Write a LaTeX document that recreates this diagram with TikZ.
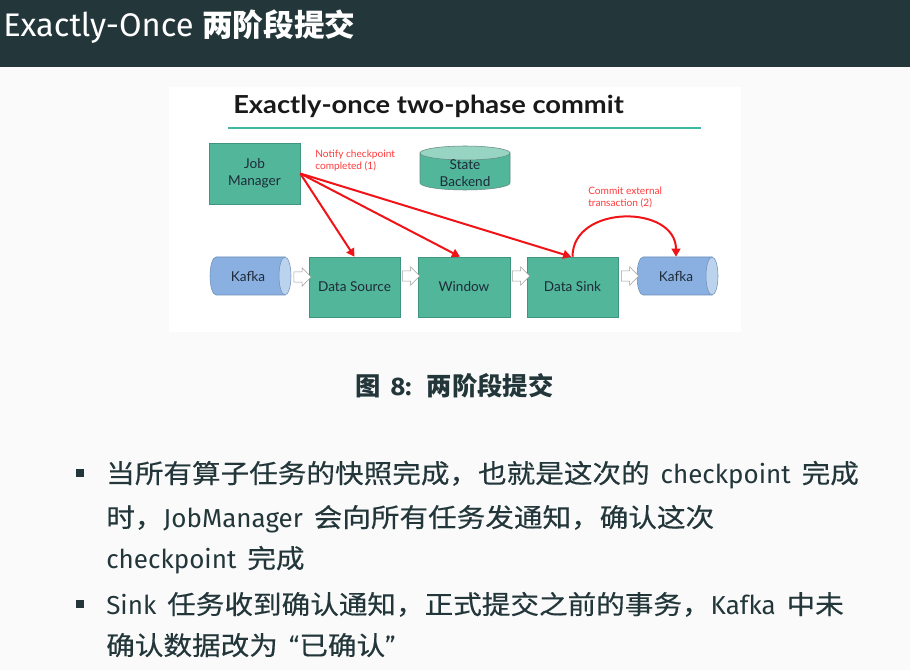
\documentclass[tikz,border=0pt]{standalone}
\usepackage{fontspec}
\setmainfont{Fira Sans}
\newfontfamily\cjk[FakeStretch=1.1,FakeBold=0.4]{Noto Sans CJK SC}
\newfontfamily\cjkt{Noto Sans CJK SC}
\newfontfamily\lato{Lato}
\newfontfamily\latow[FakeStretch=1.1]{Lato}
\newcommand{\gap}{\hspace{0.42em}}
\usetikzlibrary{shapes.arrows,arrows.meta,shadows}
\definecolor{mdark}{HTML}{23373B}
\definecolor{slidebg}{HTML}{FAFAFA}
\definecolor{boxteal}{HTML}{52B69A}
\definecolor{boxline}{HTML}{3F9580}
\definecolor{tealtop}{HTML}{97D4C2}
\definecolor{kblue}{HTML}{89B0E0}
\definecolor{kend}{HTML}{BCD3EE}
\definecolor{kline}{HTML}{6C8EBB}
\definecolor{redann}{HTML}{F01418}
\definecolor{redtext}{HTML}{FF3A3A}
\definecolor{uline}{HTML}{3DB9A2}
\definecolor{boxtext}{HTML}{1E2B38}
\tikzset{
  tealbox/.style={draw=boxline, line width=0.4pt, fill=boxteal, inner sep=0pt,
    font=\lato\fontsize{10.2}{12.5}\selectfont, text=boxtext, align=center,
    drop shadow={shadow xshift=0.9pt, shadow yshift=-0.9pt, opacity=0.3}},
  cyltext/.style={inner sep=0pt, font=\lato\fontsize{10.2}{12.5}\selectfont, text=boxtext, align=center, minimum height=28.5pt, minimum width=40pt},
  hollow/.style={single arrow, draw=gray!75, fill=white, line width=0.5pt, inner sep=0pt, inner ysep=3.6pt,
    minimum height=13pt, single arrow head extend=3pt},
  redarrow/.style={draw=redann, line width=1.5pt, -{Triangle[width=6.5pt,length=6pt]}},
  redlabel/.style={inner sep=0pt, font=\lato\fontsize{7.6}{9}\selectfont, text=redtext, align=left},
  bodytext/.style={inner sep=0pt, text=mdark, font=\fontsize{19.5}{23}\selectfont},
  bulletsq/.style={fill=mdark, inner sep=0pt, minimum size=6pt}
}
\begin{document}
\begin{tikzpicture}[x=0.75pt,y=0.75pt]
\useasboundingbox (0,0) rectangle (910,-670);
% slide background and header
\fill[slidebg] (0,0) rectangle (910,-670);
\fill[mdark] (0,0) rectangle (910,-67);
\node[anchor=base west, inner sep=0pt, text=white, font=\fontsize{24.5}{28}\selectfont] (title) at (3,-37)
  {Exactly-Once {\cjkt\bfseries\fontsize{23}{28}\selectfont 两阶段提交}};
% embedded figure
\fill[white] (169,-87) rectangle (741,-332);
\node[anchor=base west, inner sep=0pt, text=black!90, font=\latow\bfseries\fontsize{18.6}{22}\selectfont] (dtitle) at (233,-114)
  {Exactly-once two-phase commit};
\draw[uline, line width=1.5pt] (228,-128) -- (701,-128);
% Job manager
\node[tealbox, minimum width=68.25pt, minimum height=45.75pt] (jm) at (254.5,-173.5) {Job\\Manager};
% State backend cylinder
\path[fill=boxteal, draw=gray!60!boxline, line width=0.4pt]
  (420,-153) -- (420,-183) arc[start angle=180, end angle=360, x radius=45, y radius=7] -- (510,-153) -- cycle;
\path[fill=tealtop, draw=gray!60!boxline, line width=0.4pt] (465,-153) ellipse[x radius=45, y radius=7];
\node[cyltext] (sb) at (465,-173) {State\\Backend};
% Kafka left
\path[fill=kblue, draw=kline, line width=0.4pt]
  (285,-257) -- (216,-257) arc[start angle=90, end angle=270, x radius=6, y radius=19] -- (285,-295) -- cycle;
\path[fill=kend, draw=kline, line width=0.4pt] (285,-276) ellipse[x radius=6, y radius=19];
\node[cyltext] (k1) at (248,-276) {Kafka};
% Kafka right
\path[fill=kblue, draw=kline, line width=0.4pt]
  (712,-257) -- (643,-257) arc[start angle=90, end angle=270, x radius=6, y radius=19] -- (712,-295) -- cycle;
\path[fill=kend, draw=kline, line width=0.4pt] (712,-276) ellipse[x radius=6, y radius=19];
\node[cyltext] (k2) at (676,-276) {Kafka};
% operators
\node[tealbox, minimum width=68.25pt, minimum height=45pt] (ds) at (354.5,-287) {Data Source};
\node[tealbox, minimum width=69pt, minimum height=45pt] (win) at (464,-287) {Window};
\node[tealbox, minimum width=68.25pt, minimum height=45pt] (sink) at (572.5,-287) {Data Sink};
% hollow data-flow arrows
\node[hollow] (h1) at (300,-277) {};
\node[hollow] (h2) at (408.5,-276) {};
\node[hollow] (h3) at (518.5,-276) {};
\node[hollow] (h4) at (627.5,-276) {};
% red notifications
\draw[redarrow] (jm.east) -- (ds.north);
\draw[redarrow] (jm.east) -- ([xshift=-3pt]win.north);
\draw[redarrow] (jm.east) -- ([xshift=-1pt]sink.north);
\draw[redarrow] (sink.north) to[out=90, in=90, looseness=1.3] (k2.north);
\node[redlabel, anchor=north west] (n1) at (315,-150) {Notify checkpoint\\completed (1)};
\node[redlabel, anchor=north west] (n2) at (588,-187) {Commit external\\transaction (2)};
% caption
\node[anchor=base west, inner sep=0pt, text=mdark, font=\bfseries\fontsize{19}{22}\selectfont] (cap) at (355,-395)
  {{\cjkt 图}\hspace{0.4em}8:\hspace{0.6em}{\cjkt 两阶段提交}};
% bullets
\node[bulletsq] (b1) at (80,-473) {};
\node[bulletsq] (b2) at (80,-604) {};
\node[bodytext, anchor=base west] (l1) at (106,-483) {{\cjk 当所有算子任务的快照完成，也就是这次的}\gap checkpoint\gap{\cjk 完成}};
\node[bodytext, anchor=base west] (l2) at (106,-527) {{\cjk 时，}JobManager\gap{\cjk 会向所有任务发通知，确认这次}};
\node[bodytext, anchor=base west] (l3) at (106,-568) {checkpoint\gap{\cjk 完成}};
\node[bodytext, anchor=base west] (l4) at (106,-614) {Sink\gap{\cjk 任务收到确认通知，正式提交之前的事务，}Kafka\gap{\cjk 中未}};
\node[bodytext, anchor=base west] (l5) at (106,-655) {{\cjk 确认数据改为}\gap “{\cjk 已确认}”};
\end{tikzpicture}
\end{document}
